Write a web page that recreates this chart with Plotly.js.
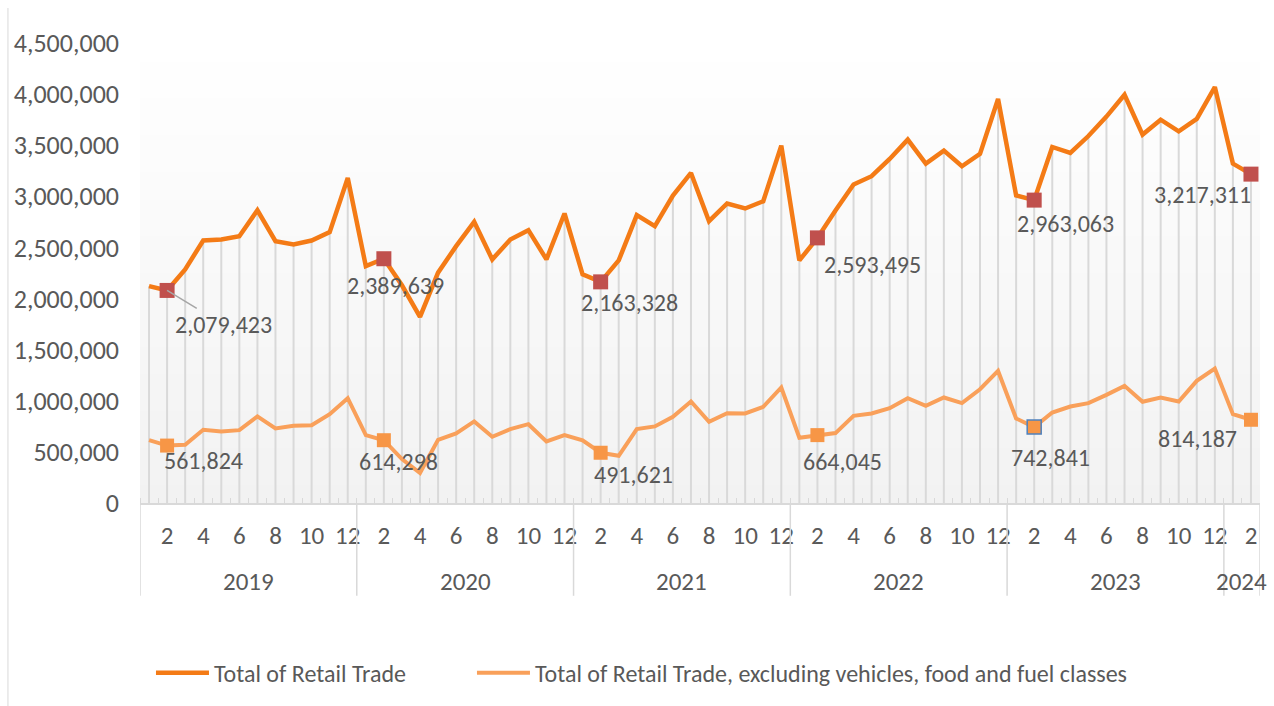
<!DOCTYPE html>
<html><head><meta charset="utf-8">
<script src="https://cdn.plot.ly/plotly-3.0.1.min.js"></script>
<style>html,body{margin:0;padding:0;background:#fff;} #chart{width:1274px;height:706px;}</style>
</head><body><div id="chart"></div>
<script>
const years = ['2019','2020','2021','2022','2023','2024'];
const monthsInYear = [12,12,12,12,12,2];
const totalRetail = [
 2122000, 2079423, 2285000, 2568000, 2578000, 2610000, 2864000, 2562000, 2529000, 2568000, 2650000, 3180000,
 2318000, 2389639, 2130000, 1820000, 2253000, 2513000, 2750000, 2383000, 2578000, 2669000, 2383000, 2832000,
 2236000, 2163328, 2373000, 2816000, 2708000, 3008000, 3229000, 2757000, 2930000, 2881000, 2952000, 3496000,
 2373000, 2593495, 2861000, 3115000, 3197000, 3366000, 3555000, 3320000, 3447000, 3294000, 3415000, 3952000,
 3008000, 2963063, 3483000, 3425000, 3590000, 3780000, 3994000, 3604000, 3750000, 3636000, 3757000, 4069000,
 3320000, 3217311];
const retailExcl = [
 615000, 561824, 570000, 716000, 700000, 713000, 847000, 729000, 755000, 760000, 869000, 1025000,
 664000, 614298, 430000, 293000, 618000, 680000, 798000, 648000, 723000, 771000, 602000, 664000,
 612000, 491621, 462000, 723000, 749000, 843000, 993000, 794000, 879000, 876000, 941000, 1130000,
 638000, 664045, 684000, 853000, 876000, 928000, 1025000, 950000, 1032000, 977000, 1113000, 1292000,
 827000, 742841, 885000, 944000, 977000, 1058000, 1146000, 990000, 1032000, 993000, 1195000, 1315000,
 869000, 814187];
const seriesNames = ['Total of Retail Trade', 'Total of Retail Trade, excluding vehicles, food and fuel classes'];

// styling / label placement (pixel offsets of labels from their markers)
const upperLabelOffsets = [[56,34],[12,27],[29,21],[55,27],[31,23],[-48,20]];
const lowerLabelOffsets = [[36,15],[15,21],[33,22],[25,26],[16,30],[-53,19]];
const FONT = 'Calibri, Carlito, Lato, sans-serif';
const TXT = '#595959';
const GRID = '#D9D9D9';
const LBL = 24;

// build categories
const months = [], yearStart = [];
years.forEach((y, k) => { yearStart.push(months.length); for (let m = 1; m <= monthsInYear[k]; m++) months.push(m); });
const idx = months.map((m, i) => i);
const febIdx = idx.filter(i => months[i] === 2);

const dropX = [], dropY = [];
totalRetail.forEach((v, i) => { dropX.push(i, i, null); dropY.push(0, v, null); });

const traces = [
  {x: dropX, y: dropY, mode: 'lines', line: {color: GRID, width: 2}, showlegend: false, hoverinfo: 'skip'},
  {x: idx, y: totalRetail, name: seriesNames[0], mode: 'lines', line: {color: '#F47B16', width: 4.5}, legend: 'legend'},
  {x: idx, y: retailExcl, name: seriesNames[1], mode: 'lines', line: {color: '#F9A05A', width: 4}, legend: 'legend2'},
  {x: febIdx, y: febIdx.map(i => totalRetail[i]), mode: 'markers', showlegend: false,
   marker: {symbol: 'square', size: 15, color: '#C0504D', line: {width: 0}}},
  {x: febIdx, y: febIdx.map(i => retailExcl[i]), mode: 'markers', showlegend: false,
   marker: {symbol: 'square', size: 14, color: '#F79646',
     line: {width: febIdx.map(i => years[Math.floor(i/12)] === '2023' ? 1.5 : 0), color: febIdx.map(i => years[Math.floor(i/12)] === '2023' ? '#4F81BD' : '#F79646')}}}
];

const annotations = [];
febIdx.forEach((i, k) => {
  const o = upperLabelOffsets[k];
  if (k === 0) {
    annotations.push({x: i, y: totalRetail[i], text: totalRetail[i].toLocaleString('en-US'), showarrow: true,
      arrowhead: 0, arrowwidth: 1.5, arrowcolor: '#A6A6A6', ax: o[0], ay: o[1], font: {family: FONT, size: LBL, color: TXT}});
  } else {
    annotations.push({x: i, y: totalRetail[i], text: totalRetail[i].toLocaleString('en-US'), showarrow: false,
      xshift: o[0], yshift: -o[1], font: {family: FONT, size: LBL, color: TXT}});
  }
  const p = lowerLabelOffsets[k];
  annotations.push({x: i, y: retailExcl[i], text: retailExcl[i].toLocaleString('en-US'), showarrow: false,
    xshift: p[0], yshift: -p[1], font: {family: FONT, size: LBL, color: TXT}});
});
years.forEach((y, k) => {
  annotations.push({x: yearStart[k] + (monthsInYear[k] - 1) / 2, xref: 'x', y: -0.171, yref: 'paper',
    yanchor: 'middle', text: y, showarrow: false, font: {family: FONT, size: 25, color: TXT}});
});

const shapes = [];
const N = 50;
for (let k = 0; k < N; k++) {
  const t = k / (N - 1);
  const c = Math.round(242 + (255 - 242) * t);
  shapes.push({type: 'rect', xref: 'paper', yref: 'paper', x0: 0, x1: 1, y0: k / N, y1: (k + 1) / N + 0.003,
    fillcolor: `rgb(${c},${c},${c})`, line: {width: 0}, layer: 'below'});
}
const bounds = yearStart.concat([months.length]);
bounds.forEach(b => {
  shapes.push({type: 'line', xref: 'x', yref: 'paper', x0: b - 0.5, x1: b - 0.5, y0: 0, y1: -0.2017,
    line: {color: GRID, width: 1.5}});
});
// chart border (left)
shapes.push({type: 'line', xref: 'paper', yref: 'paper', x0: -0.1179, x1: -0.1179, y0: 1.076, y1: -0.45, line: {color: GRID, width: 1}});

const legendFont = {family: FONT, size: 24, color: TXT};
const layout = {
  width: 1274, height: 706,
  margin: {l: 140, r: 14, t: 43, b: 202},
  paper_bgcolor: '#FFFFFF', plot_bgcolor: 'rgba(0,0,0,0)',
  font: {family: FONT, size: 24, color: TXT},
  xaxis: {range: [-0.5, months.length - 0.5], tickmode: 'array',
    tickvals: idx.filter(i => months[i] % 2 === 0), ticktext: idx.filter(i => months[i] % 2 === 0).map(i => String(months[i])),
    showgrid: false, zeroline: false, showline: true, linecolor: GRID, linewidth: 1.5, ticks: '',
    ticklabelstandoff: 9, tickfont: {family: FONT, size: 25, color: TXT},
    minor: {tickmode: 'array', tickvals: idx.map(i => i - 0.5), ticks: 'inside', ticklen: 5, tickcolor: GRID, tickwidth: 1, showgrid: false}},
  yaxis: {range: [0, 4500000], dtick: 500000, tickformat: ',', showgrid: false, zeroline: false, showline: false,
    ticks: '', ticklabelstandoff: 20, tickfont: {family: FONT, size: 26, color: TXT}},
  showlegend: true,
  legend: {orientation: 'h', x: 0.0098, xanchor: 'left', y: -0.367, yanchor: 'middle', itemwidth: 53,
    font: legendFont, bgcolor: 'rgba(0,0,0,0)'},
  legend2: {orientation: 'h', x: 0.2964, xanchor: 'left', y: -0.367, yanchor: 'middle', itemwidth: 53,
    font: legendFont, bgcolor: 'rgba(0,0,0,0)'},
  annotations: annotations, shapes: shapes
};
Plotly.newPlot('chart', traces, layout, {displayModeBar: false, staticPlot: true});
</script></body></html>
